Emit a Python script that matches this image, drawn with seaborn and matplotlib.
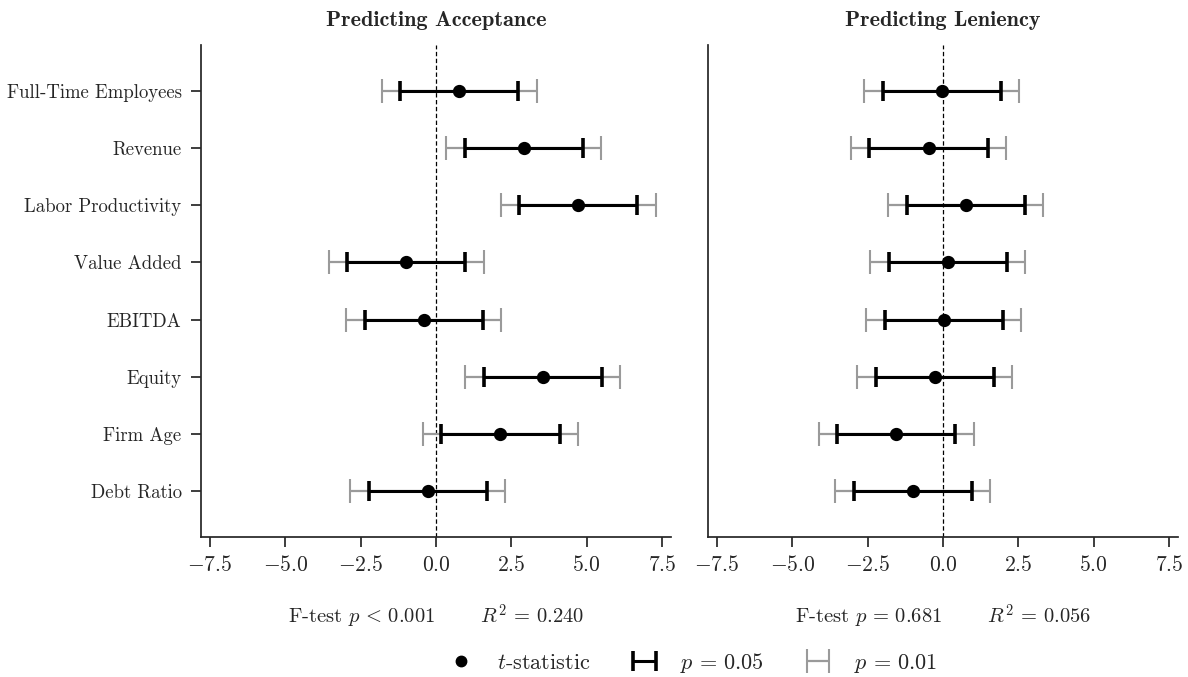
import numpy as np
import pandas as pd
import matplotlib
matplotlib.use("Agg")
import matplotlib.pyplot as plt
from matplotlib.lines import Line2D
import seaborn as sns

# Regression predictors, top to bottom
predictors = ["Full-Time Employees", "Revenue", "Labor Productivity", "Value Added",
              "EBITDA", "Equity", "Firm Age", "Debt Ratio"]

# t-statistics for each model
t_acceptance = [0.77, 2.91, 4.72, -0.99, -0.41, 3.54, 2.14, -0.27]
t_leniency = [-0.04, -0.48, 0.75, 0.16, 0.02, -0.28, -1.55, -1.00]

# Two-sided critical values of the t-statistic
crit_05 = 1.96
crit_01 = 2.576

panel_titles = ["Predicting Acceptance", "Predicting Leniency"]
fit_labels = [r"F-test $p \,<\, 0.001\qquad\;\; R^2 \,=\, 0.240$",
              r"F-test $p \,=\, 0.681\qquad\;\; R^2 \,=\, 0.056$"]
x_ticks = [-7.5, -5.0, -2.5, 0.0, 2.5, 5.0, 7.5]
legend_labels = [r"$t$-statistic", r"$p \,=\, 0.05$", r"$p \,=\, 0.01$"]

sns.set_theme(style="ticks")
plt.rcParams["font.family"] = ["serif"]
plt.rcParams["font.serif"] = ["cmr10"]
plt.rcParams["mathtext.fontset"] = "cm"
plt.rcParams["axes.formatter.use_mathtext"] = True
plt.rcParams["axes.unicode_minus"] = True

GREY = "#9a9a9a"

fig = plt.figure(figsize=(11.88, 6.77), dpi=100)
W, H = 1188, 677
ax_w, ax_h = 470 / W, 492 / H
ax_bottom = 1 - 537 / H
ax_left = fig.add_axes([201 / W, ax_bottom, ax_w, ax_h])
ax_right = fig.add_axes([708 / W, ax_bottom, ax_w, ax_h])
axes = [ax_left, ax_right]

ypos = np.arange(len(predictors))
handles = None
for ax, tvals, title, fit in zip(axes, [t_acceptance, t_leniency], panel_titles, fit_labels):
    df = pd.DataFrame({"predictor": predictors, "t": tvals})
    ax.axvline(0, color="black", lw=0.9, ls=(0, (3.5, 2)), zorder=0)
    e01 = ax.errorbar(df["t"], ypos, xerr=crit_01, fmt="none", ecolor=GREY,
                      elinewidth=1.6, capsize=8.5, capthick=1.5, zorder=1)
    e05 = ax.errorbar(df["t"], ypos, xerr=crit_05, fmt="none", ecolor="black",
                      elinewidth=2.2, capsize=7.5, capthick=2.6, zorder=2)
    sns.pointplot(data=df, x="t", y="predictor", order=predictors, orient="h",
                  linestyle="none", color="black", markers="o", markersize=7.5,
                  errorbar=None, ax=ax, zorder=3)
    ax.set_xlim(-7.8, 7.8)
    ax.set_ylim(len(predictors) - 0.2, -0.8)
    ax.set_xticks(x_ticks)
    ax.set_xlabel("")
    ax.set_ylabel("")
    ax.tick_params(axis="x", labelsize=15.5, length=7, width=1.25, pad=6)
    ax.tick_params(axis="y", labelsize=13.5, length=7, width=1.25, pad=7)
    sns.despine(ax=ax)
    ax.set_title(title, fontfamily="cmb10", fontsize=16, pad=14)
    ax.text(0.5, -0.162, fit, transform=ax.transAxes, ha="center", va="center",
            fontsize=14.8)
    if handles is None:
        dot = Line2D([], [], marker="o", color="black", linestyle="none", markersize=7.5)
        handles = [dot, e05, e01]

ax_right.tick_params(axis="y", left=False, labelleft=False)

fig.legend(handles, legend_labels, loc="center", bbox_to_anchor=(688 / W, 1 - 663 / H),
           ncol=3, frameon=False, fontsize=16, columnspacing=1.45, handletextpad=0.6,
           handlelength=2.0)

fig.savefig("out.png", dpi=100)
